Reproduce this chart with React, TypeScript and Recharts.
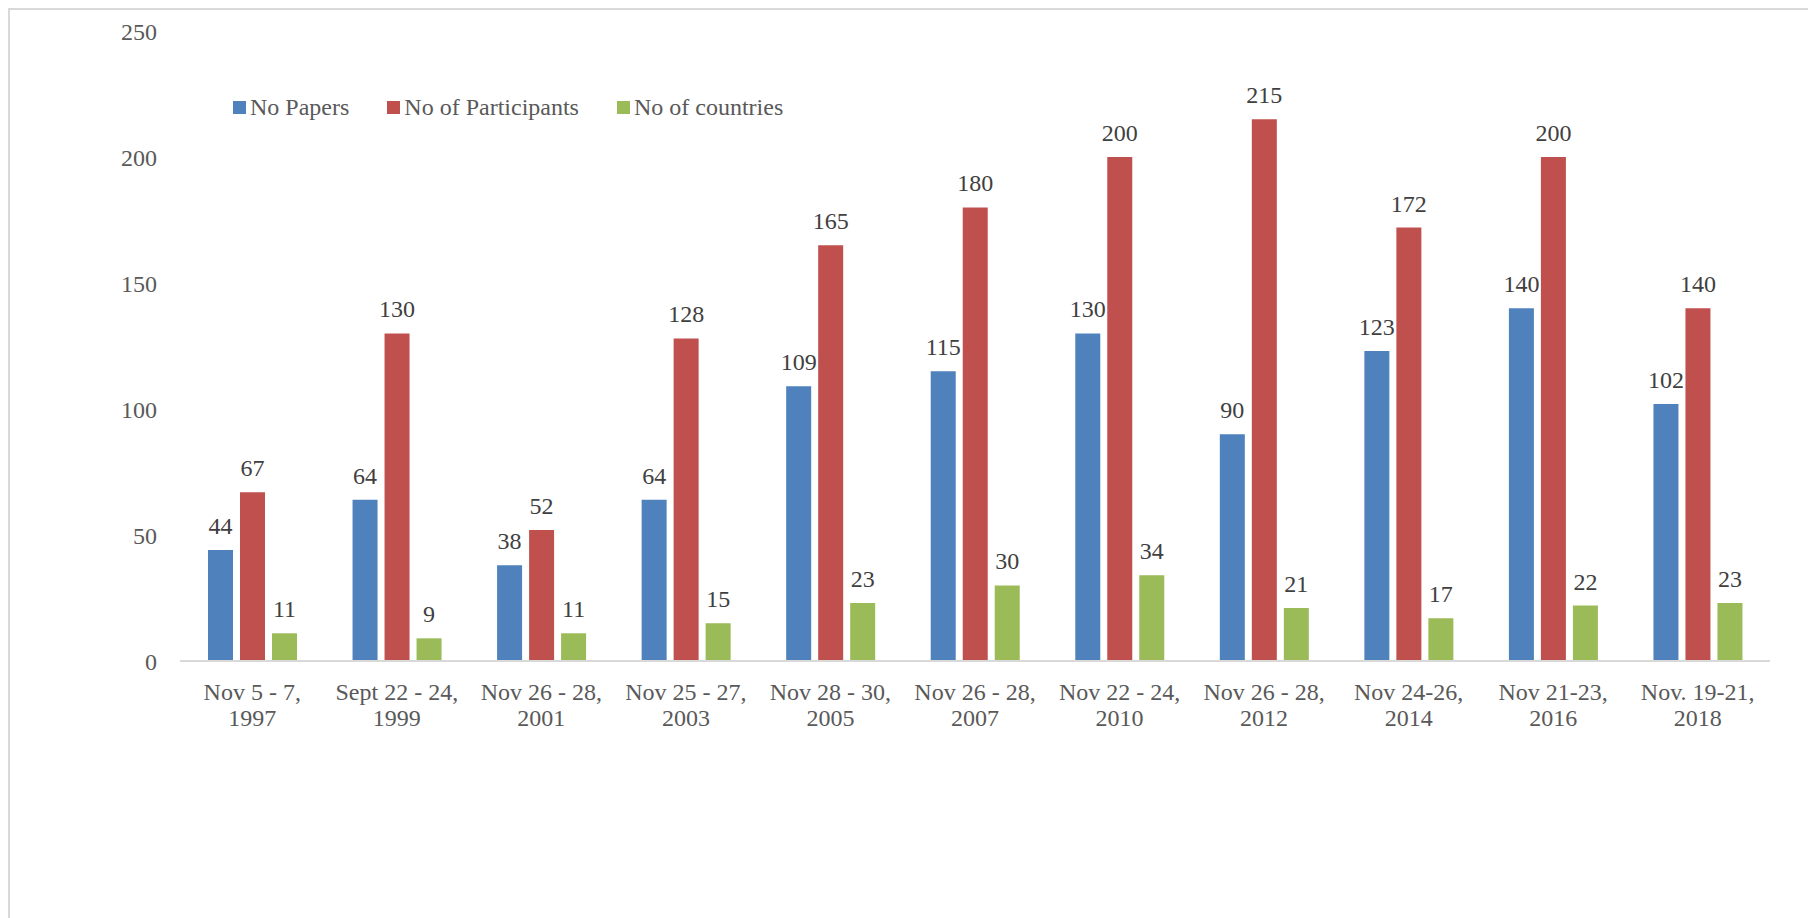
import React from 'react';
import { BarChart, Bar, XAxis, YAxis, Legend, LabelList } from 'recharts';

const categories = [
  'Nov 5 - 7, 1997',
  'Sept 22 - 24, 1999',
  'Nov 26 - 28, 2001',
  'Nov 25 - 27, 2003',
  'Nov 28 - 30, 2005',
  'Nov 26 - 28, 2007',
  'Nov 22 - 24, 2010',
  'Nov 26 - 28, 2012',
  'Nov 24-26, 2014',
  'Nov 21-23, 2016',
  'Nov. 19-21, 2018',
];
const papers = [44, 64, 38, 64, 109, 115, 130, 90, 123, 140, 102];
const participants = [67, 130, 52, 128, 165, 180, 200, 215, 172, 200, 140];
const countries = [11, 9, 11, 15, 23, 30, 34, 21, 17, 22, 23];
const yTicks = [0, 50, 100, 150, 200, 250];

const FONT = '"Liberation Serif", "Times New Roman", serif';
const BLUE = '#4f81bd';
const RED = '#c0504d';
const GREEN = '#9bbb59';

const data = categories.map((name, i) => ({
  name,
  papers: papers[i],
  participants: participants[i],
  countries: countries[i],
}));

const CategoryTick = ({ x, y, payload }: any) => {
  const text: string = payload.value;
  const idx = text.lastIndexOf(',');
  const first = text.slice(0, idx + 1);
  const second = text.slice(idx + 1).trim();
  return (
    <text x={x} y={y} textAnchor="middle" fill="#595959" fontSize={24} fontFamily={FONT}>
      <tspan x={x} dy={39}>{first}</tspan>
      <tspan x={x} dy={26}>{second}</tspan>
    </text>
  );
};

const legendItems = [
  { label: 'No Papers', color: BLUE },
  { label: 'No of Participants', color: RED },
  { label: 'No of countries', color: GREEN },
];

const LegendContent = () => (
  <div style={{ display: 'flex', alignItems: 'center', fontFamily: FONT, fontSize: 24, color: '#595959' }}>
    {legendItems.map((it) => (
      <div key={it.label} style={{ display: 'flex', alignItems: 'center', marginRight: 38 }}>
        <span style={{ width: 13, height: 13, background: it.color, display: 'inline-block', marginRight: 4 }} />
        <span>{it.label}</span>
      </div>
    ))}
  </div>
);

const labelStyle = { fill: '#404040', fontSize: 24, fontFamily: FONT };

export default function App() {
  return (
    <div style={{ position: 'relative', width: 1808, height: 910 }}>
      <div
        style={{
          position: 'absolute',
          left: 0,
          top: 0,
          width: '100%',
          height: '100%',
          boxSizing: 'border-box',
          borderTop: '2px solid #d9d9d9',
          borderLeft: '2px solid #d9d9d9',
          pointerEvents: 'none',
        }}
      />
      <BarChart
        width={1800}
        height={900}
        data={data}
        margin={{ top: 23, right: 38, left: 0, bottom: 147 }}
        barGap={7}
      >
        <XAxis
          dataKey="name"
          interval={0}
          axisLine={{ stroke: '#d9d9d9', strokeWidth: 2 }}
          tickLine={false}
          tickSize={0}
          tickMargin={0}
          height={100}
          tick={<CategoryTick />}
        />
        <YAxis
          domain={[0, 250]}
          ticks={yTicks}
          axisLine={false}
          tickLine={false}
          width={172}
          tickMargin={17}
          tick={{ fill: '#595959', fontSize: 24, fontFamily: FONT }}
        />
        <Legend
          layout="horizontal"
          verticalAlign="middle"
          content={<LegendContent />}
          wrapperStyle={{ position: 'absolute', top: 86, left: 225, width: 'auto' }}
        />
        <Bar dataKey="papers" name="No Papers" fill={BLUE} barSize={25} isAnimationActive={false}>
          <LabelList dataKey="papers" position="top" offset={16} style={labelStyle} />
        </Bar>
        <Bar dataKey="participants" name="No of Participants" fill={RED} barSize={25} isAnimationActive={false}>
          <LabelList dataKey="participants" position="top" offset={16} style={labelStyle} />
        </Bar>
        <Bar dataKey="countries" name="No of countries" fill={GREEN} barSize={25} isAnimationActive={false}>
          <LabelList dataKey="countries" position="top" offset={16} style={labelStyle} />
        </Bar>
      </BarChart>
    </div>
  );
}
